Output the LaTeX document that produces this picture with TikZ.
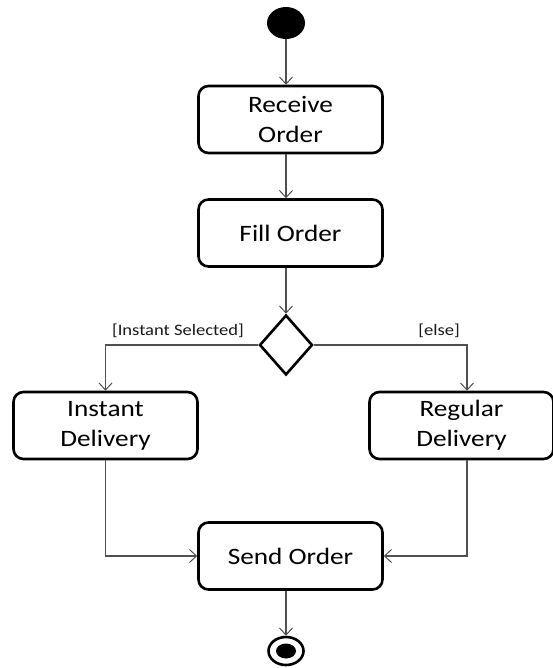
\documentclass[tikz,border=0pt]{standalone}
\usepackage{fontspec}
\setmainfont{Carlito}
\newfontfamily\boxfont[FakeStretch=1.16]{Carlito}
\usetikzlibrary{shapes.geometric,arrows.meta}
\definecolor{flowgray}{HTML}{505050}
\tikzset{
  action/.style={draw=black, line width=2.6pt, rectangle, rounded corners=10pt,
    minimum width=184pt, minimum height=67pt, inner sep=0pt, align=center,
    font=\boxfont\fontsize{23.5}{30}\selectfont, text=black},
  flow/.style={draw=flowgray, line width=1.1pt,
    -{Straight Barb[length=7pt, width=13pt, line width=1pt]}},
  guard/.style={font=\boxfont\fontsize{16}{19}\selectfont, text=black!90, inner sep=0pt},
}
\begin{document}
\begin{tikzpicture}[x=1pt, y=-1pt]
\useasboundingbox (0,0) rectangle (552,668);

% initial and final nodes
\node[ellipse, fill=black, minimum width=38pt, minimum height=32pt, inner sep=0pt] (start) at (286,23) {};
\node[ellipse, draw=black, line width=2.6pt, minimum width=35pt, minimum height=28pt, inner sep=0pt] (final) at (286,651) {};
\node[ellipse, fill=black, minimum width=20pt, minimum height=15pt, inner sep=0pt] (finalcore) at (286,651) {};

% actions
\node[action] (recv) at (290.5,119.5) {Receive\\Order};
\node[action] (fill) at (290.5,233) {Fill Order};
\node[action] (inst) at (105.5,425.5) {Instant\\Delivery};
\node[action] (reg) at (461.5,425.5) {Regular\\Delivery};
\node[action] (send) at (290.5,556) {Send Order};

% decision
\node[diamond, draw=black, line width=2.6pt, minimum width=53pt, minimum height=60pt, inner sep=0pt] (dec) at (286,345) {};

% guards
\node[guard] (gi) at (178,331) {[Instant Selected]};
\node[guard] (ge) at (439,331) {[else]};

% control flows
\draw[flow] (start) -- (start |- recv.north);
\draw[flow] (start |- recv.south) -- (start |- fill.north);
\draw[flow] (start |- fill.south) -- (dec.north);
\draw[flow] (dec.west) -| (inst.north);
\draw[flow] (dec.east) -| ([xshift=5.5pt]reg.north);
\draw[flow] (inst.south) |- (send.west);
\draw[flow] ([xshift=5.5pt]reg.south) |- (send.east);
\draw[flow] (final |- send.south) -- (final.north);
\end{tikzpicture}
\end{document}
